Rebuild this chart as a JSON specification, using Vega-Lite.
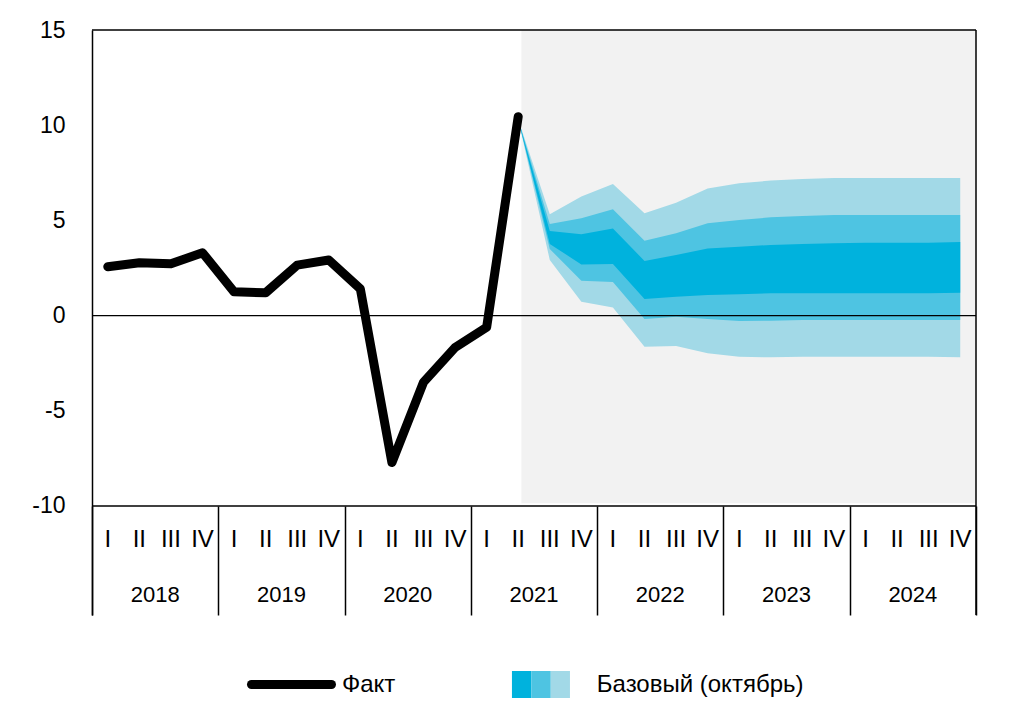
{
  "$schema": "https://vega.github.io/schema/vega-lite/v6.json",
  "width": 884,
  "height": 585,
  "autosize": {"type": "none"},
  "padding": {"left": 92, "top": 30, "right": 46, "bottom": 98},
  "background": "white",
  "config": {
    "view": {"stroke": null},
    "font": "Liberation Sans, Arial, sans-serif",
    "text": {"font": "Liberation Sans, Arial, sans-serif", "color": "#000000"},
    "legend": {
      "title": null,
      "orient": "none",
      "padding": 0,
      "labelFont": "Liberation Sans, Arial, sans-serif",
      "labelFontSize": 24,
      "labelColor": "#000000",
      "labelLimit": 400
    }
  },
  "datasets": {
    "fact": [
      {"q": 0, "v": 2.57}, {"q": 1, "v": 2.78}, {"q": 2, "v": 2.72}, {"q": 3, "v": 3.3},
      {"q": 4, "v": 1.25}, {"q": 5, "v": 1.2}, {"q": 6, "v": 2.65}, {"q": 7, "v": 2.92},
      {"q": 8, "v": 1.4}, {"q": 9, "v": -7.72}, {"q": 10, "v": -3.5}, {"q": 11, "v": -1.68},
      {"q": 12, "v": -0.61}, {"q": 13, "v": 10.45}
    ],
    "fan": [
      {"q": 13, "o_lo": 10.3, "o_hi": 10.3, "m_lo": 10.3, "m_hi": 10.3, "i_lo": 10.3, "i_hi": 10.3},
      {"q": 14, "o_lo": 2.92, "o_hi": 5.32, "m_lo": 3.5, "m_hi": 4.81, "i_lo": 3.76, "i_hi": 4.44},
      {"q": 15, "o_lo": 0.73, "o_hi": 6.25, "m_lo": 1.83, "m_hi": 5.11, "i_lo": 2.69, "i_hi": 4.27},
      {"q": 16, "o_lo": 0.43, "o_hi": 6.91, "m_lo": 1.76, "m_hi": 5.58, "i_lo": 2.71, "i_hi": 4.58},
      {"q": 17, "o_lo": -1.63, "o_hi": 5.37, "m_lo": -0.18, "m_hi": 3.93, "i_lo": 0.87, "i_hi": 2.87},
      {"q": 18, "o_lo": -1.6, "o_hi": 5.93, "m_lo": -0.06, "m_hi": 4.32, "i_lo": 0.99, "i_hi": 3.18},
      {"q": 19, "o_lo": -1.98, "o_hi": 6.68, "m_lo": -0.18, "m_hi": 4.85, "i_lo": 1.08, "i_hi": 3.53},
      {"q": 20, "o_lo": -2.16, "o_hi": 6.95, "m_lo": -0.28, "m_hi": 5.02, "i_lo": 1.12, "i_hi": 3.62},
      {"q": 21, "o_lo": -2.19, "o_hi": 7.09, "m_lo": -0.27, "m_hi": 5.16, "i_lo": 1.17, "i_hi": 3.71},
      {"q": 22, "o_lo": -2.16, "o_hi": 7.17, "m_lo": -0.23, "m_hi": 5.23, "i_lo": 1.17, "i_hi": 3.76},
      {"q": 23, "o_lo": -2.16, "o_hi": 7.23, "m_lo": -0.23, "m_hi": 5.28, "i_lo": 1.17, "i_hi": 3.8},
      {"q": 24, "o_lo": -2.16, "o_hi": 7.23, "m_lo": -0.23, "m_hi": 5.28, "i_lo": 1.17, "i_hi": 3.83},
      {"q": 25, "o_lo": -2.16, "o_hi": 7.23, "m_lo": -0.23, "m_hi": 5.28, "i_lo": 1.17, "i_hi": 3.83},
      {"q": 26, "o_lo": -2.16, "o_hi": 7.23, "m_lo": -0.23, "m_hi": 5.28, "i_lo": 1.17, "i_hi": 3.83},
      {"q": 27, "o_lo": -2.19, "o_hi": 7.23, "m_lo": -0.23, "m_hi": 5.28, "i_lo": 1.2, "i_hi": 3.87}
    ],
    "quarters": [
      {"q": 0, "label": "I", "year": "2018"}, {"q": 1, "label": "II", "year": "2018"}, {"q": 2, "label": "III", "year": "2018"}, {"q": 3, "label": "IV", "year": "2018"},
      {"q": 4, "label": "I", "year": "2019"}, {"q": 5, "label": "II", "year": "2019"}, {"q": 6, "label": "III", "year": "2019"}, {"q": 7, "label": "IV", "year": "2019"},
      {"q": 8, "label": "I", "year": "2020"}, {"q": 9, "label": "II", "year": "2020"}, {"q": 10, "label": "III", "year": "2020"}, {"q": 11, "label": "IV", "year": "2020"},
      {"q": 12, "label": "I", "year": "2021"}, {"q": 13, "label": "II", "year": "2021"}, {"q": 14, "label": "III", "year": "2021"}, {"q": 15, "label": "IV", "year": "2021"},
      {"q": 16, "label": "I", "year": "2022"}, {"q": 17, "label": "II", "year": "2022"}, {"q": 18, "label": "III", "year": "2022"}, {"q": 19, "label": "IV", "year": "2022"},
      {"q": 20, "label": "I", "year": "2023"}, {"q": 21, "label": "II", "year": "2023"}, {"q": 22, "label": "III", "year": "2023"}, {"q": 23, "label": "IV", "year": "2023"},
      {"q": 24, "label": "I", "year": "2024"}, {"q": 25, "label": "II", "year": "2024"}, {"q": 26, "label": "III", "year": "2024"}, {"q": 27, "label": "IV", "year": "2024"}
    ],
    "lines": [{"v": 15}, {"v": 0}, {"v": -10}]
  },
  "resolve": {"scale": {"fill": "independent"}},
  "layer": [
    {
      "data": {"values": [{"period": "прогноз"}]},
      "mark": {"type": "rect", "fill": "#f2f2f2"},
      "encoding": {
        "x": {"datum": 13.1, "type": "quantitative", "scale": {"domain": [-0.5, 27.5], "nice": false, "zero": false}},
        "x2": {"datum": 27.5},
        "y": {"datum": -9.85, "type": "quantitative", "scale": {"domain": [-15.725, 15], "nice": false, "zero": false}},
        "y2": {"datum": 15}
      }
    },
    {
      "data": {"name": "fan"},
      "mark": {"type": "area"},
      "encoding": {
        "x": {"field": "q", "type": "quantitative"},
        "y": {"field": "o_lo", "type": "quantitative"},
        "y2": {"field": "o_hi"},
        "fill": {
          "datum": "Базовый (октябрь)",
          "type": "nominal",
          "scale": {"range": ["#a2d9e7"]},
          "legend": {
            "legendX": 454.8,
            "legendY": 641,
            "symbolType": "M-0.715,-1H0.715V1H-0.715Z",
            "symbolSize": 729,
            "symbolStrokeWidth": 0,
            "symbolOpacity": 1,
            "labelOffset": 23
          }
        }
      }
    },
    {
      "data": {"name": "fan"},
      "mark": {"type": "area"},
      "encoding": {
        "x": {"field": "q", "type": "quantitative"},
        "y": {"field": "m_lo", "type": "quantitative"},
        "y2": {"field": "m_hi"},
        "fill": {
          "datum": "mid",
          "type": "nominal",
          "scale": {"range": ["#4ec4e2"]},
          "legend": {
            "legendX": 435.5,
            "legendY": 641,
            "symbolType": "M-0.715,-1H0.715V1H-0.715Z",
            "symbolSize": 729,
            "symbolStrokeWidth": 0,
            "symbolOpacity": 1,
            "labelExpr": "''"
          }
        }
      }
    },
    {
      "data": {"name": "fan"},
      "mark": {"type": "area"},
      "encoding": {
        "x": {"field": "q", "type": "quantitative"},
        "y": {"field": "i_lo", "type": "quantitative"},
        "y2": {"field": "i_hi"},
        "fill": {
          "datum": "inner",
          "type": "nominal",
          "scale": {"range": ["#00b2dd"]},
          "legend": {
            "legendX": 416.1,
            "legendY": 641,
            "symbolType": "M-0.715,-1H0.715V1H-0.715Z",
            "symbolSize": 729,
            "symbolStrokeWidth": 0,
            "symbolOpacity": 1,
            "labelExpr": "''"
          }
        }
      }
    },
    {
      "data": {"name": "lines"},
      "mark": {"type": "rule", "color": "#000000", "strokeWidth": 1.3},
      "encoding": {
        "y": {"field": "v", "type": "quantitative"}
      }
    },
    {
      "data": {"values": [{"edge": "right"}]},
      "mark": {"type": "rule", "color": "#000000", "strokeWidth": 1.5},
      "encoding": {
        "x": {"datum": 27.5, "type": "quantitative"}
      }
    },
    {
      "data": {"name": "fact"},
      "mark": {"type": "line", "strokeWidth": 9, "strokeCap": "round", "strokeJoin": "round"},
      "encoding": {
        "x": {
          "field": "q",
          "type": "quantitative",
          "title": null,
          "axis": {
            "values": [-0.5, 3.5, 7.5, 11.5, 15.5, 19.5, 23.5, 27.5],
            "labels": false,
            "domain": false,
            "grid": false,
            "ticks": true,
            "tickSize": -109,
            "tickColor": "#000000",
            "tickWidth": 1.5
          }
        },
        "y": {
          "field": "v",
          "type": "quantitative",
          "title": null,
          "axis": {
            "values": [-10, -5, 0, 5, 10, 15],
            "labelExpr": "datum.value < 0 ? '-' + abs(datum.value) : '' + datum.value",
            "grid": false,
            "ticks": false,
            "tickSize": 0,
            "domain": true,
            "domainColor": "#000000",
            "domainWidth": 1.5,
            "labelPadding": 27,
            "labelFont": "Liberation Sans, Arial, sans-serif",
            "labelFontSize": 23,
            "labelColor": "#000000"
          }
        },
        "stroke": {
          "datum": "Факт",
          "type": "nominal",
          "scale": {"range": ["#000000"]},
          "legend": {
            "legendX": 155,
            "legendY": 610,
            "symbolType": "stroke",
            "symbolSize": 6400,
            "symbolStrokeWidth": 9,
            "labelOffset": 6,
            "encode": {"symbols": {"update": {"strokeCap": {"value": "round"}}}}
          }
        }
      }
    },
    {
      "data": {"name": "quarters"},
      "mark": {"type": "text", "fontSize": 24, "baseline": "middle", "align": "center"},
      "encoding": {
        "x": {"field": "q", "type": "quantitative"},
        "y": {"datum": -11.8, "type": "quantitative"},
        "text": {"field": "label"}
      }
    },
    {
      "data": {"name": "quarters"},
      "transform": [{"aggregate": [{"op": "mean", "field": "q", "as": "mid"}], "groupby": ["year"]}],
      "mark": {"type": "text", "fontSize": 22, "baseline": "middle", "align": "center"},
      "encoding": {
        "x": {"field": "mid", "type": "quantitative"},
        "y": {"datum": -14.66, "type": "quantitative"},
        "text": {"field": "year"}
      }
    }
  ]
}
